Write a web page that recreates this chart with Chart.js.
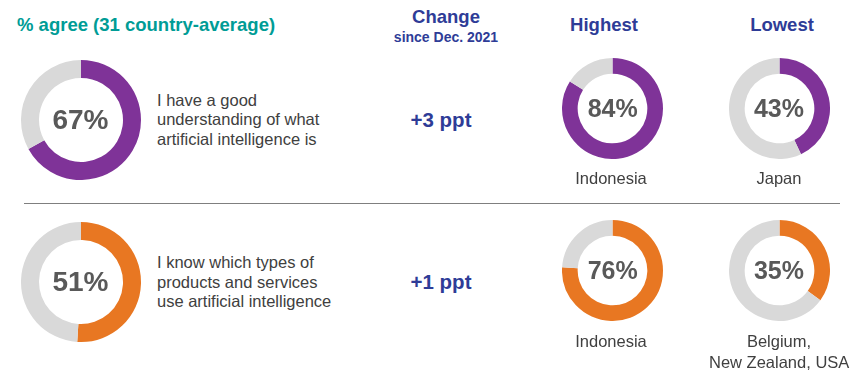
<!DOCTYPE html>
<html><head><meta charset="utf-8">
<script src="https://cdn.jsdelivr.net/npm/chart.js@4"></script>
<style>
html,body{margin:0;padding:0;background:#fff;width:864px;height:378px;overflow:hidden;font-family:Arial,"Liberation Sans",sans-serif;}
.abs{position:absolute;white-space:nowrap;}
.box{position:absolute;}
.hdr{font-weight:bold;color:#2E3C97;font-size:18.5px;line-height:20px;text-align:center;}
.sub{font-weight:bold;color:#2E3C97;font-size:14px;line-height:16px;text-align:center;}
.stmt{color:#404040;font-size:16.5px;line-height:19.5px;}
.chg{font-weight:bold;color:#2E3C97;font-size:20.5px;line-height:24px;text-align:center;}
.ctry{color:#404040;font-size:16.5px;line-height:21px;text-align:center;}
.pct{position:absolute;left:0;top:0;width:100%;height:100%;display:flex;align-items:center;justify-content:center;font-weight:bold;color:#595959;pointer-events:none;}
</style></head>
<body>
<div id="root"></div>
<script>
// ---- data ----
const statements = [
  ["I have a good","understanding of what","artificial intelligence is"],
  ["I know which types of","products and services","use artificial intelligence"]
];
const averageValues = [67, 51];
const changeLabels = ["+3 ppt", "+1 ppt"];
const highestValues = [84, 76];
const highestCountries = [["Indonesia"], ["Indonesia"]];
const lowestValues = [43, 35];
const lowestCountries = [["Japan"], ["Belgium,", "New Zealand, USA"]];
const rowColors = ["#7F3398", "#E87722"];
const restColor = "#D9D9D9";

const titleText = "% agree (31 country-average)";
const changeHeader = "Change";
const changeSub = "since Dec. 2021";
const highestHeader = "Highest";
const lowestHeader = "Lowest";

// ---- layout ----
const root = document.getElementById('root');
function addText(cls, text, left, top, width) {
  const d = document.createElement('div');
  d.className = 'abs ' + cls;
  d.style.left = left + 'px'; d.style.top = top + 'px';
  if (width) d.style.width = width + 'px';
  d.innerHTML = text;
  root.appendChild(d);
  return d;
}
function donut(cx, cy, r, cutout, value, color, fontSize) {
  const box = document.createElement('div');
  box.className = 'box';
  box.style.left = (cx - r) + 'px'; box.style.top = (cy - r) + 'px';
  box.style.width = (2*r) + 'px'; box.style.height = (2*r) + 'px';
  const c = document.createElement('canvas');
  box.appendChild(c);
  const lbl = document.createElement('div');
  lbl.className = 'pct'; lbl.style.fontSize = fontSize + 'px';
  lbl.textContent = value + '%';
  box.appendChild(lbl);
  root.appendChild(box);
  new Chart(c, {
    type: 'doughnut',
    data: { labels: ['agree','other'], datasets: [{ data: [value, 100 - value], backgroundColor: [color, restColor], borderWidth: 0, hoverOffset: 0 }] },
    options: { responsive: true, maintainAspectRatio: false, animation: false, cutout: cutout,
      layout: { padding: 0 }, events: [],
      plugins: { legend: { display: false }, tooltip: { enabled: false } } }
  });
}

addText('', titleText, 17, 14).style.cssText += 'font-weight:bold;color:#009C96;font-size:18.5px;line-height:22px;';
addText('hdr', changeHeader, 386, 7, 120);
addText('sub', changeSub, 386, 29, 120);
addText('hdr', highestHeader, 544, 15, 120);
addText('hdr', lowestHeader, 722, 15, 120);

const rowCY = [119.5, 282];
const smallCY = [108.3, 270.7];
for (let i = 0; i < 2; i++) {
  donut(80.5, rowCY[i], 60, '70%', averageValues[i], rowColors[i], 28);
  addText('stmt', statements[i].join('<br>'), 157, rowCY[i] - 29);
  addText('chg', changeLabels[i], 381, rowCY[i] - 12, 120);
  donut(612.7, smallCY[i], 50.5, '69%', highestValues[i], rowColors[i], 25);
  donut(779, smallCY[i], 50.5, '69%', lowestValues[i], rowColors[i], 25);
  addText('ctry', highestCountries[i].join('<br>'), 551, smallCY[i] + 60, 120);
  addText('ctry', lowestCountries[i].join('<br>'), 709, smallCY[i] + 60, 140);
}
const sep = document.createElement('div');
sep.style.cssText = 'position:absolute;left:24px;top:203px;width:816px;height:1px;background:#7F7F7F;';
root.appendChild(sep);
</script>
</body></html>
